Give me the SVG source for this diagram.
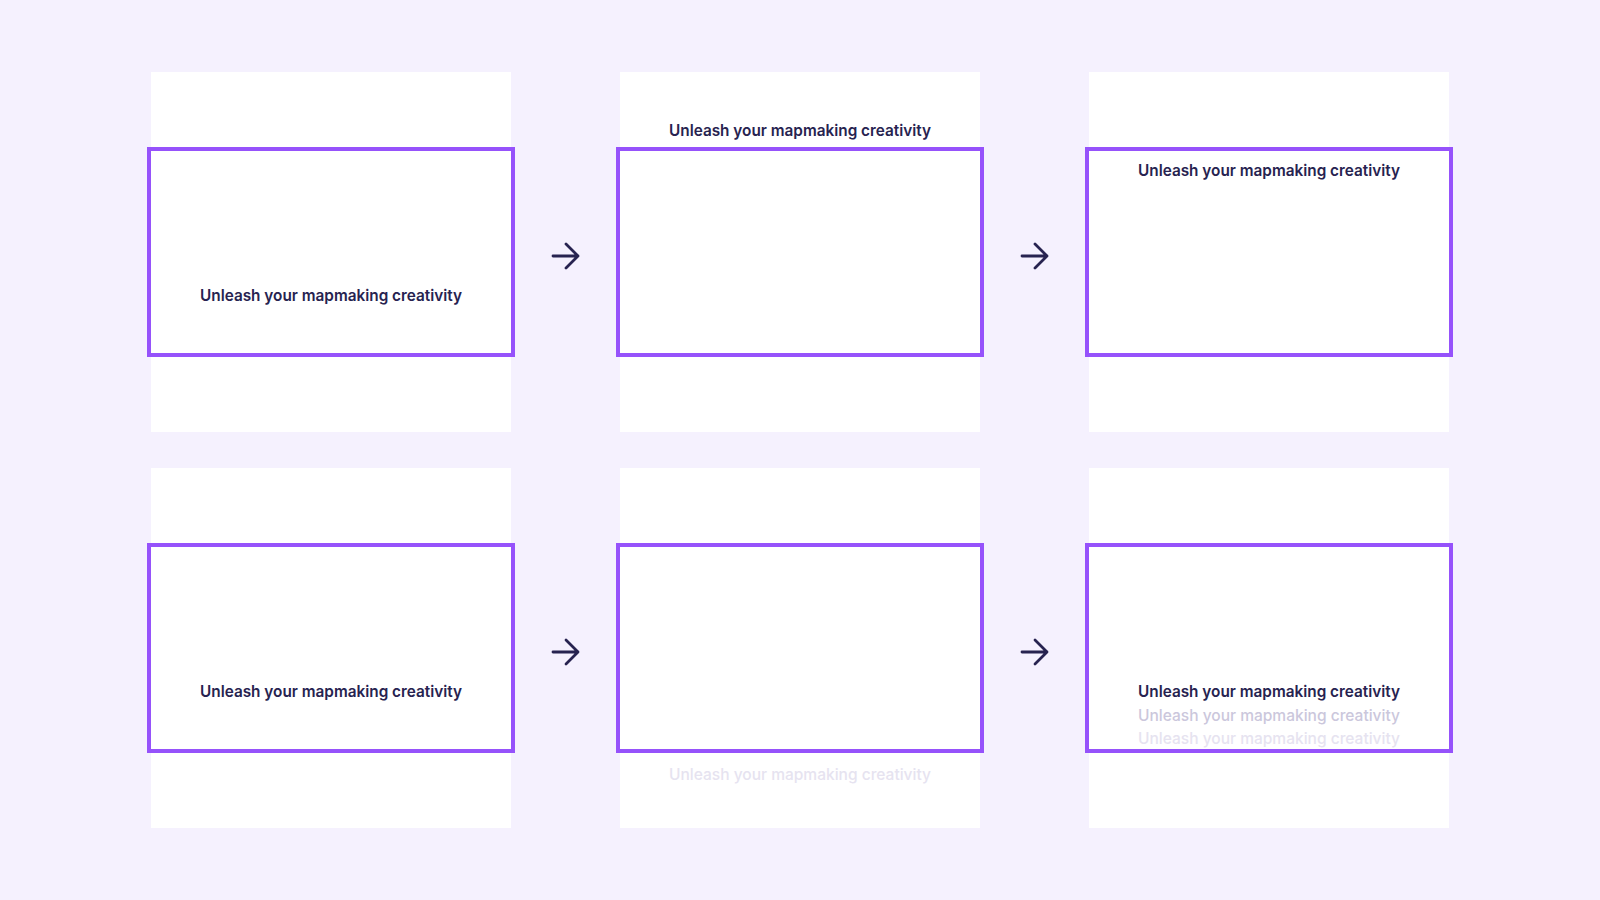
<svg xmlns="http://www.w3.org/2000/svg" width="1600" height="900" viewBox="0 0 1600 900">
  <style>
    .panel { fill: #ffffff; }
    .frame { fill: none; stroke: #9652fb; stroke-width: 4; }
    .t { font-family: Inter, "Liberation Sans", sans-serif; font-size: 16px; font-weight: 600; text-anchor: middle; fill: #272350; }
    .t2 { fill: #cbc7dc; font-weight: 500; }
    .t3 { fill: #e6e3f0; font-weight: 500; }
    .arrow { fill: none; stroke: #272350; stroke-width: 2.8; stroke-linecap: round; stroke-linejoin: round; }
  </style>
  <rect width="1600" height="900" fill="#f5f1fe"/>

  <g id="node-r1c1">
    <rect class="panel" x="151" y="72" width="360" height="360"/>
    <text class="t" x="331" y="301" textLength="262" lengthAdjust="spacingAndGlyphs">Unleash your mapmaking creativity</text>
    <rect class="frame" x="149" y="149" width="364" height="206"/>
  </g>
  <g id="node-r1c2">
    <rect class="panel" x="620" y="72" width="360" height="360"/>
    <text class="t" x="800" y="136" textLength="262" lengthAdjust="spacingAndGlyphs">Unleash your mapmaking creativity</text>
    <rect class="frame" x="618" y="149" width="364" height="206"/>
  </g>
  <g id="node-r1c3">
    <rect class="panel" x="1089" y="72" width="360" height="360"/>
    <text class="t" x="1269" y="176" textLength="262" lengthAdjust="spacingAndGlyphs">Unleash your mapmaking creativity</text>
    <rect class="frame" x="1087" y="149" width="364" height="206"/>
  </g>

  <g id="node-r2c1">
    <rect class="panel" x="151" y="468" width="360" height="360"/>
    <text class="t" x="331" y="697" textLength="262" lengthAdjust="spacingAndGlyphs">Unleash your mapmaking creativity</text>
    <rect class="frame" x="149" y="545" width="364" height="206"/>
  </g>
  <g id="node-r2c2">
    <rect class="panel" x="620" y="468" width="360" height="360"/>
    <text class="t t3" x="800" y="780" textLength="262" lengthAdjust="spacingAndGlyphs">Unleash your mapmaking creativity</text>
    <rect class="frame" x="618" y="545" width="364" height="206"/>
  </g>
  <g id="node-r2c3">
    <rect class="panel" x="1089" y="468" width="360" height="360"/>
    <text class="t" x="1269" y="697" textLength="262" lengthAdjust="spacingAndGlyphs">Unleash your mapmaking creativity</text>
    <text class="t t2" x="1269" y="721" textLength="262" lengthAdjust="spacingAndGlyphs">Unleash your mapmaking creativity</text>
    <text class="t t3" x="1269" y="744" textLength="262" lengthAdjust="spacingAndGlyphs">Unleash your mapmaking creativity</text>
    <rect class="frame" x="1087" y="545" width="364" height="206"/>
  </g>

  <g id="connectors">
    <path class="arrow" d="M553 256 H578 M566 244 L578 256 L566 268"/>
    <path class="arrow" d="M1022 256 H1047 M1035 244 L1047 256 L1035 268"/>
    <path class="arrow" d="M553 652 H578 M566 640 L578 652 L566 664"/>
    <path class="arrow" d="M1022 652 H1047 M1035 640 L1047 652 L1035 664"/>
  </g>
</svg>
